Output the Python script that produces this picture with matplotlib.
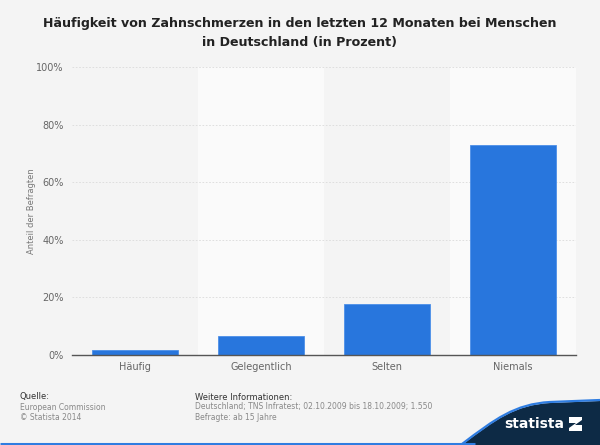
import matplotlib
matplotlib.use('Agg')
import matplotlib.pyplot as plt
from matplotlib.patches import Polygon, PathPatch
from matplotlib.path import Path

# data
categories = ['Häufig', 'Gelegentlich', 'Selten', 'Niemals']
values = [1.7, 6.7, 17.7, 72.8]
yticks = [0, 20, 40, 60, 80, 100]

title = ('Häufigkeit von Zahnschmerzen in den letzten 12 Monaten bei Menschen\n'
         'in Deutschland (in Prozent)')

bg = '#f4f4f4'
barColour = '#2876dd'

fig = plt.figure(figsize=(6, 4.45), dpi=100, facecolor=bg)
ax = fig.add_axes([0.12, 0.2022, 0.84, 0.6472], facecolor=bg)

#   alternating column shading
for i in range(len(categories)):
    if i % 2 == 1:
        ax.axvspan(i - 0.5, i + 0.5, color='#fafafa', lw=0, zorder=0)

x = list(range(len(categories)))
ax.bar(x, values, width=0.685, color=barColour, edgecolor='#4c8fe8',
       linewidth=0.6, zorder=3)

ax.set_xlim(-0.5, len(categories) - 0.5)
ax.set_ylim(0, 100)
ax.set_yticks(yticks)
ax.set_yticklabels(['%d%%' % v for v in yticks])
ax.set_xticks(x)
ax.set_xticklabels(categories)
ax.tick_params(axis='both', length=0, labelsize=7, colors='#666666')
ax.tick_params(axis='y', pad=6)
ax.tick_params(axis='x', pad=5)
ax.grid(axis='y', color='#dadada', linestyle=(0, (2, 2)), linewidth=0.6, zorder=1)
for s in ['top', 'right', 'left']:
    ax.spines[s].set_visible(False)
ax.spines['bottom'].set_color('#555555')
ax.spines['bottom'].set_linewidth(1.0)
ax.spines['bottom'].set_zorder(4)
ax.set_ylabel('Anteil der Befragten', fontsize=6, color='#777777', labelpad=0)

fig.text(0.5, 0.962, title, ha='center', va='top', fontsize=9.1,
         fontweight='bold', color='#222222', linespacing=1.6)

#   footer
fig.text(20/600, 1 - 397/445, 'Quelle:', fontsize=6, color='#333333', va='center')
fig.text(20/600, 1 - 407/445, 'European Commission', fontsize=5.5, color='#888888', va='center')
fig.text(20/600, 1 - 417.5/445, '© Statista 2014', fontsize=5.5, color='#888888', va='center')
fig.text(195/600, 1 - 397/445, 'Weitere Informationen:', fontsize=6, color='#333333', va='center')
fig.text(195/600, 1 - 407/445, 'Deutschland; TNS Infratest; 02.10.2009 bis 18.10.2009; 1.550',
         fontsize=5.5, color='#888888', va='center')
fig.text(195/600, 1 - 417.5/445, 'Befragte: ab 15 Jahre', fontsize=5.5, color='#888888', va='center')

#   statista logo band in pixel coordinates
ov = fig.add_axes([0, 0, 1, 1], facecolor='none')
ov.set_xlim(0, 600)
ov.set_ylim(445, 0)
ov.axis('off')
verts = [(462, 445), (495, 420), (515, 405), (550, 403), (600, 401),
         (600, 445), (462, 445)]
codes = [Path.MOVETO, Path.CURVE4, Path.CURVE4, Path.CURVE4, Path.LINETO,
         Path.LINETO, Path.CLOSEPOLY]
ov.add_patch(PathPatch(Path(verts, codes), facecolor='#0d2a45', edgecolor='none'))
edge = Path([(462, 444), (495, 419), (515, 404), (550, 402), (600, 400)],
            [Path.MOVETO, Path.CURVE4, Path.CURVE4, Path.CURVE4, Path.LINETO])
ov.add_patch(PathPatch(edge, facecolor='none', edgecolor='#2f7de1', linewidth=1.6))
ov.plot([0, 475], [444, 444], color='#2f7de1', linewidth=2.2, solid_capstyle='butt')
ov.text(534, 424, 'statista', color='white', fontsize=10, fontweight='bold',
        ha='center', va='center', family='DejaVu Sans Condensed')
ov.add_patch(Polygon([(569, 417), (582, 417), (582, 420), (575, 425), (582, 425),
                      (582, 431), (569, 431), (569, 428), (576, 423), (569, 423)],
                     closed=True, facecolor='white', edgecolor='none'))

fig.savefig('out.png', dpi=100, facecolor=bg)
